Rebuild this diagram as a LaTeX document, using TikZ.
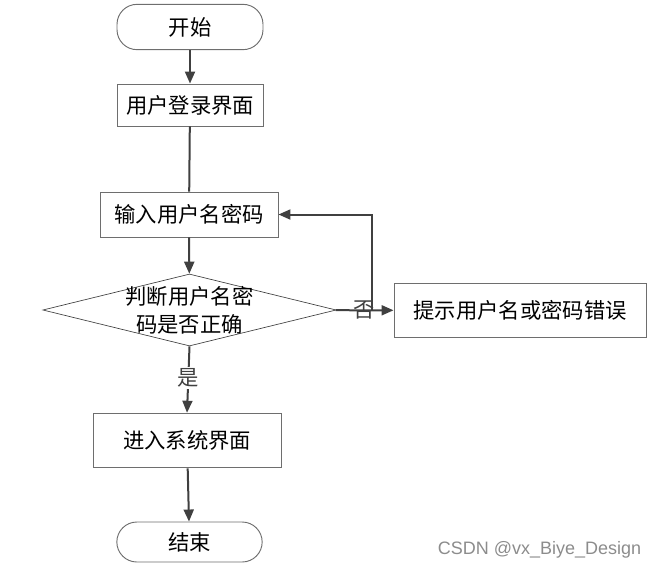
\documentclass[tikz,border=0pt]{standalone}
\usepackage{fontspec}
\setsansfont{Liberation Sans}
\newfontfamily\cjk{Noto Sans CJK SC}
\usetikzlibrary{arrows.meta,positioning,shapes.geometric}
\definecolor{linegray}{HTML}{404040}
\definecolor{edgegray}{HTML}{6E6E6E}

\begin{document}
\begin{tikzpicture}[x=0.75pt, y=-0.75pt,
        font=\cjk\fontsize{16}{21}\selectfont,
        box/.style={draw=edgegray, line width=0.7pt, fill=white, align=center, inner sep=0pt},
        term/.style={box, rounded corners=15pt},
        decide/.style={draw=linegray, line width=0.5pt, diamond, shape aspect=4, align=center,
                       inner sep=-4pt, minimum width=220pt, minimum height=54pt},
        arr/.style={-{Triangle[length=9pt, width=7.5pt]}, line width=1.5pt, linegray},
        plain/.style={line width=1.5pt, linegray}]
        \useasboundingbox (0,0) rectangle (660,572);
        \node[term, minimum width=109.5pt, minimum height=34pt] (start) at (190,27) {开始};
        \node[box, minimum width=109.5pt, minimum height=31.5pt] (login) at (190,105) {用户登录界面};
        \node[box, minimum width=133.5pt, minimum height=33.75pt] (input) at (189,214.5) {输入用户名密码};
        \node[decide] (check) at (189.5,310) {判断用户名密\\码是否正确};
        \node[box, minimum width=189pt, minimum height=40pt] (err) at (520,310.5) {提示用户名或密码错误};
        \node[box, minimum width=141pt, minimum height=41pt] (sys) at (187,440.5) {进入系统界面};
        \node[term, minimum width=109pt, minimum height=30pt] (stop) at (189.5,542) {结束};
        \node[font=\sffamily\fontsize{13.5}{16}\selectfont, text=black!45, anchor=east] (mark) at (646,550) {CSDN @vx\_Biye\_Design};
        \coordinate (back) at (372,310);
        \draw[arr] (start) -- (login);
        \draw[plain] (login) -- (input);
        \draw[arr] (input) -- (check);
        \draw[arr] (check) -- node[pos=0.5, inner sep=0pt] {否} (err);
        \draw[arr] (back) |- (input.east);
        \draw[arr] (check.south) -- node[pos=0.48, fill=white, inner sep=1pt] {是} (sys.north);
        \draw[arr] (sys) -- (stop);
      \end{tikzpicture}
\end{document}
